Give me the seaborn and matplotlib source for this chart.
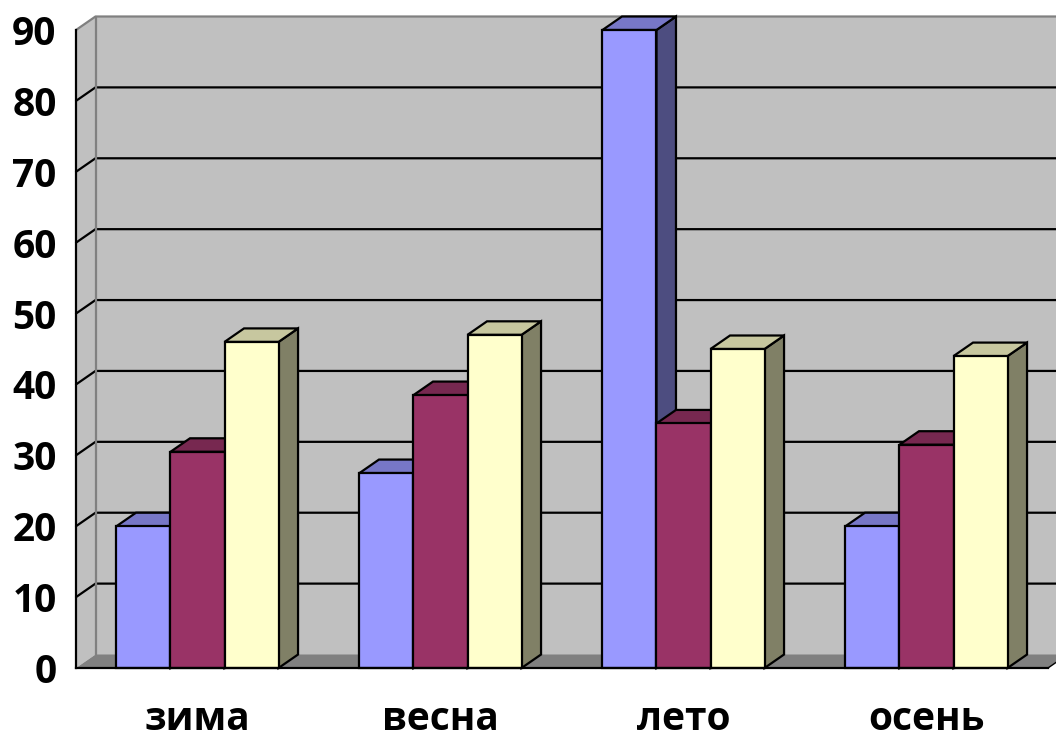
import matplotlib
matplotlib.use("Agg")
import matplotlib.pyplot as plt
import matplotlib.colors as mcolors
from matplotlib.patches import Polygon, Rectangle
import pandas as pd
import seaborn as sns

# --- data -------------------------------------------------------------
seasons = ["зима", "весна", "лето", "осень"]
series = ["Ряд 1", "Ряд 2", "Ряд 3"]
values_1 = [20, 27.5, 90, 20]
values_2 = [30.5, 38.5, 34.5, 31.5]
values_3 = [46, 47, 45, 44]
y_ticks = [0, 10, 20, 30, 40, 50, 60, 70, 80, 90]

# --- style ------------------------------------------------------------
front_colors = ["#9999FF", "#993366", "#FFFFCC"]
WALL = "#C0C0C0"
FLOOR = "#808080"
BORDER = "#808080"
LW = 1.6
DEPTH_PX = (19.5, 13.5)   # pseudo-3D depth of walls and bars, in pixels

sns.set_style("white")
plt.rcParams["font.family"] = ["Open Sans", "DejaVu Sans"]
plt.rcParams["font.weight"] = "bold"
plt.rcParams["text.color"] = "black"
plt.rcParams["xtick.color"] = "black"
plt.rcParams["ytick.color"] = "black"

df = pd.DataFrame({
    "season": seasons * 3,
    "series": [s for s in series for _ in seasons],
    "value": values_1 + values_2 + values_3,
})

W, H = 1056, 740
fig = plt.figure(figsize=(W / 100, H / 100), dpi=100)
ax = fig.add_axes([76 / W, 72 / H, 972 / W, 638 / H])
ax.patch.set_visible(False)

sns.barplot(data=df, x="season", y="value", hue="series", order=seasons,
            hue_order=series, palette=front_colors, saturation=1,
            width=0.667, edgecolor="black", linewidth=LW, legend=False,
            err_kws={"linewidth": 0}, ax=ax)

# the front faces drawn by seaborn, ordered left to right
bars = sorted([p for p in ax.patches if isinstance(p, Rectangle)
               and p.get_height() > 0], key=lambda p: p.get_x())

x_lo, x_hi = -0.5, len(seasons) - 0.5
ax.set_xlim(x_lo, x_hi)
ax.set_ylim(0, 90)
ax.set_xlabel("")
ax.set_ylabel("")

# depth offset converted to data units
p0 = ax.transData.transform((0, 0))
p1 = ax.transData.transform((1, 10))
ddx = DEPTH_PX[0] / (p1[0] - p0[0])
ddy = DEPTH_PX[1] / ((p1[1] - p0[1]) / 10)
top_y = y_ticks[-1]

# side wall, back wall, floor
side_wall = Polygon([(x_lo, 0), (x_lo, top_y), (x_lo + ddx, top_y + ddy),
                     (x_lo + ddx, ddy)], closed=True, facecolor=WALL,
                    edgecolor="none", zorder=0.5, clip_on=False)
back_wall = Polygon([(x_lo + ddx, ddy), (x_hi + ddx, ddy),
                     (x_hi + ddx, top_y + ddy), (x_lo + ddx, top_y + ddy)],
                    closed=True, facecolor=WALL, edgecolor="none",
                    zorder=0.5, clip_on=False)
floor = Polygon([(x_lo, 0), (x_hi, 0), (x_hi + ddx, ddy), (x_lo + ddx, ddy)],
                closed=True, facecolor=FLOOR, edgecolor="none",
                zorder=0.6, clip_on=False)
for p in (side_wall, back_wall, floor):
    ax.add_patch(p)
ax.plot([x_hi, x_hi + ddx], [0, ddy], color="black", lw=1.0,
        zorder=0.65, clip_on=False)

# gridlines: diagonal on the side wall, horizontal on the back wall
for v in y_ticks[1:-1]:
    ax.plot([x_lo, x_lo + ddx, x_hi + ddx], [v, v + ddy, v + ddy],
            color="black", lw=LW, zorder=0.7, clip_on=False,
            solid_joinstyle="miter")
ax.plot([x_lo, x_lo + ddx, x_hi + ddx], [top_y, top_y + ddy, top_y + ddy],
        color=BORDER, lw=LW, zorder=0.7, clip_on=False)
ax.plot([x_lo + ddx, x_lo + ddx], [ddy, top_y + ddy], color=BORDER, lw=LW,
        zorder=0.7, clip_on=False)


def shade(color, f):
    r, g, b = mcolors.to_rgb(color)
    return (r * f, g * f, b * f)


# extrude each bar: right side face and top face
for k, bar in enumerate(bars):
    x, w, h = bar.get_x(), bar.get_width(), bar.get_height()
    fc = bar.get_facecolor()
    z = 5 + 3 * k
    side = Polygon([(x + w, 0), (x + w + ddx, ddy), (x + w + ddx, h + ddy),
                    (x + w, h)], closed=True, facecolor=shade(fc, 0.5),
                   edgecolor="black", linewidth=LW, zorder=z, clip_on=False)
    top = Polygon([(x, h), (x + w, h), (x + w + ddx, h + ddy),
                   (x + ddx, h + ddy)], closed=True, facecolor=shade(fc, 0.78),
                  edgecolor="black", linewidth=LW, zorder=z + 1, clip_on=False)
    ax.add_patch(side)
    ax.add_patch(top)
    bar.set_zorder(z + 2)
    bar.set_clip_on(False)

# axes, ticks, labels
for s in ("top", "right"):
    ax.spines[s].set_visible(False)
for s in ("left", "bottom"):
    ax.spines[s].set_color("black")
    ax.spines[s].set_linewidth(LW)
    ax.spines[s].set_zorder(200)

ax.set_yticks(y_ticks)
ax.set_yticklabels([str(v) for v in y_ticks])
ax.tick_params(axis="y", direction="out", length=7.5, width=LW, pad=6.5,
               labelsize=28, colors="black")

ax.set_xticks([x_lo + i for i in range(len(seasons) + 1)])
ax.set_xticklabels([])
ax.set_xticks(range(len(seasons)), minor=True)
ax.set_xticklabels(seasons, minor=True)
ax.tick_params(axis="x", which="major", direction="out", length=8, width=LW,
               colors="black")
ax.tick_params(axis="x", which="minor", length=0, pad=23, labelsize=28,
               colors="black")
for lbl in ax.get_xticklabels(minor=True) + ax.get_yticklabels():
    lbl.set_fontweight("bold")
    lbl.set_color("black")

fig.savefig("out.png", dpi=100)
